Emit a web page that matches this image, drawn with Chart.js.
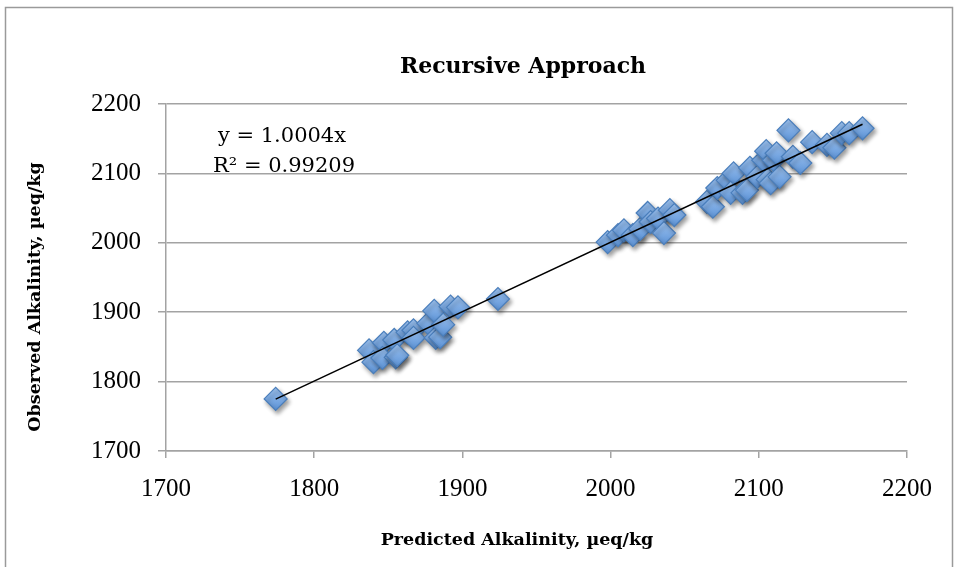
<!DOCTYPE html>
<html>
<head>
<meta charset="utf-8">
<script src="https://cdn.jsdelivr.net/npm/chart.js@4"></script>
<style>
  html, body { margin: 0; padding: 0; background: #ffffff; }
  #wrap { width: 958px; height: 567px; position: relative; }
</style>
</head>
<body>
<div id="wrap"><canvas id="c" width="958" height="567"></canvas></div>
<script>
// Predicted vs observed alkalinity (µeq/kg)
const predicted = [
  1774, 1837, 1840, 1847, 1846, 1854, 1855, 1856, 1863, 1867, 1867, 1877,
  1882, 1885, 1881, 1892, 1897, 1887, 1924,
  1998, 2005, 2009, 2015, 2020, 2025, 2027, 2032, 2036, 2040, 2043,
  2065, 2069, 2072, 2079, 2083, 2081, 2089, 2092, 2094, 2099, 2103, 2105,
  2106, 2108, 2110, 2114, 2112, 2123, 2128, 2120, 2136, 2146, 2151, 2156,
  2161, 2170
];
const observed = [
  1775, 1845, 1828, 1856, 1834, 1860, 1835, 1838, 1871, 1874, 1863, 1884,
  1863, 1864, 1902, 1908, 1907, 1882, 1919,
  2001, 2011, 2018, 2011, 2020, 2043, 2030, 2035, 2014, 2047, 2040,
  2059, 2052, 2079, 2090, 2100, 2072, 2072, 2076, 2108, 2095, 2119, 2132,
  2091, 2086, 2119, 2095, 2129, 2124, 2115, 2162, 2145, 2141, 2137, 2158,
  2158, 2165
];
// Linear fit through the origin
const fitSlope = 1.0004;
const fitR2 = '0.99209';
const axisTicks = [1700, 1800, 1900, 2000, 2100, 2200];

const chartTitle = 'Recursive Approach';
const xTitle = 'Predicted Alkalinity, \u00B5eq/kg';
const yTitle = 'Observed Alkalinity, \u00B5eq/kg';

const points = predicted.map((x, i) => ({ x: x, y: observed[i] }));
const xMin = Math.min(...predicted);
const xMax = Math.max(...predicted);
const fitLine = [
  { x: xMin, y: fitSlope * xMin },
  { x: xMax, y: fitSlope * xMax }
];

const SERIF = '"DejaVu Serif", "Liberation Serif", serif';
const TICK_SERIF = '"Liberation Serif", "DejaVu Serif", serif';
const GRID = '#a3a3a3';

// White card with a thin grey frame behind the chart
const framePlugin = {
  id: 'frame',
  beforeDraw(chart) {
    const ctx = chart.ctx;
    ctx.save();
    ctx.fillStyle = '#ffffff';
    ctx.fillRect(0, 0, chart.width, chart.height);
    ctx.strokeStyle = '#9a9a9a';
    ctx.lineWidth = 1.5;
    ctx.strokeRect(5.5, 7.5, 947, 600);
    ctx.restore();
  }
};

// Soft drop shadow under the markers
const shadowPlugin = {
  id: 'markerShadow',
  beforeDatasetDraw(chart, args) {
    if (args.index !== 1) return;
    const ctx = chart.ctx;
    ctx.save();
    ctx.shadowColor = 'rgba(0,0,0,0.38)';
    ctx.shadowBlur = 4;
    ctx.shadowOffsetX = 2;
    ctx.shadowOffsetY = 3;
  },
  afterDatasetDraw(chart, args) {
    if (args.index !== 1) return;
    chart.ctx.restore();
  }
};

// Chart title, axis titles, trendline equation and R² label
const labelsPlugin = {
  id: 'labels',
  afterDatasetsDraw(chart) {
    const ctx = chart.ctx;
    ctx.save();
    ctx.fillStyle = '#000000';
    ctx.textAlign = 'center';
    ctx.textBaseline = 'middle';

    ctx.font = 'bold 22px ' + SERIF;
    ctx.fillText(chartTitle, 523, 67);

    ctx.font = 'bold 17.5px ' + SERIF;
    ctx.fillText(xTitle, 517, 540);
    ctx.save();
    ctx.translate(35, 297);
    ctx.rotate(-Math.PI / 2);
    ctx.fillText(yTitle, 0, 0);
    ctx.restore();

    ctx.font = '21px ' + SERIF;
    ctx.fillText('y = ' + fitSlope.toFixed(4) + 'x', 282, 137);
    ctx.fillText('R\u00B2 = ' + fitR2, 284, 167);
    ctx.restore();
  }
};

// Vertical light-to-dark fill for each diamond
function markerFill(context) {
  const chart = context.chart;
  const raw = context.raw;
  const yScale = chart.scales && chart.scales.y;
  if (!raw || !yScale) return '#77a9e4';
  const py = yScale.getPixelForValue(raw.y);
  if (!Number.isFinite(py)) return '#77a9e4';
  const g = chart.ctx.createLinearGradient(0, py - 11, 0, py + 11);
  g.addColorStop(0, '#9dc3f1');
  g.addColorStop(1, '#5d93d6');
  return g;
}

const plainTick = v => String(v);

new Chart(document.getElementById('c'), {
  type: 'scatter',
  data: {
    datasets: [
      {
        type: 'line',
        label: 'Linear fit',
        data: fitLine,
        borderColor: '#000000',
        borderWidth: 1.5,
        pointRadius: 0,
        fill: false,
        order: 0
      },
      {
        label: 'Observed',
        data: points,
        pointStyle: 'rectRot',
        pointRadius: 11.5,
        pointHoverRadius: 11.5,
        backgroundColor: markerFill,
        borderColor: '#4a7ebb',
        borderWidth: 1.2,
        order: 1
      }
    ]
  },
  options: {
    responsive: false,
    animation: false,
    events: [],
    layout: { padding: { left: 0, right: 51, top: 104, bottom: 0 } },
    plugins: {
      legend: { display: false },
      tooltip: { enabled: false },
      title: { display: false }
    },
    scales: {
      x: {
        type: 'linear',
        min: 1700,
        max: 2200,
        afterBuildTicks: s => { s.ticks = axisTicks.map(v => ({ value: v })); },
        afterFit: s => { s.height = 116; },
        ticks: {
          color: '#000000',
          font: { family: TICK_SERIF, size: 25 },
          padding: 16,
          maxRotation: 0,
          callback: plainTick
        },
        grid: {
          drawOnChartArea: false,
          drawTicks: true,
          tickLength: 7,
          color: GRID,
          lineWidth: 1.5
        },
        border: { display: true, color: GRID, width: 1.5 },
        title: { display: false }
      },
      y: {
        type: 'linear',
        min: 1700,
        max: 2200,
        afterBuildTicks: s => { s.ticks = axisTicks.map(v => ({ value: v })); },
        afterFit: s => { s.width = 166; },
        ticks: {
          color: '#000000',
          font: { family: TICK_SERIF, size: 25 },
          padding: 17,
          callback: plainTick
        },
        grid: {
          drawOnChartArea: true,
          drawTicks: true,
          tickLength: 8,
          color: GRID,
          lineWidth: 1.5
        },
        border: { display: true, color: GRID, width: 1.5 },
        title: { display: false }
      }
    }
  },
  plugins: [framePlugin, shadowPlugin, labelsPlugin]
});
</script>
</body>
</html>
